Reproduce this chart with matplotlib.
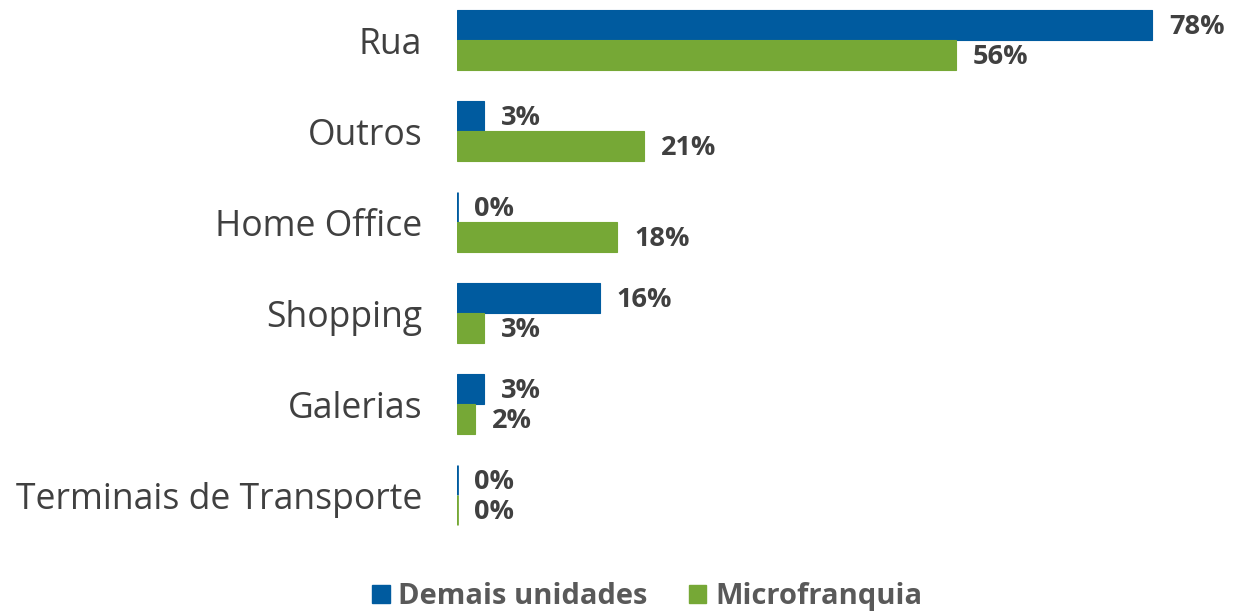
import matplotlib.pyplot as plt
import numpy as np

# chart data
categories = ["Rua", "Outros", "Home Office", "Shopping", "Galerias", "Terminais de Transporte"]
demais = [78, 3, 0, 16, 3, 0]
micro = [56, 21, 18, 3, 2, 0]
series_names = ["Demais unidades", "Microfranquia"]

BLUE = "#005b9f"
GREEN = "#76a836"
TXT = "#404040"

plt.rcParams['font.family'] = ['Open Sans', 'DejaVu Sans']

fig = plt.figure(figsize=(12.35, 6.14), dpi=100)
ax = fig.add_axes([0.37, 0.1205, 0.63, 0.8795])

y = np.arange(len(categories))
h = 0.33

b1 = ax.barh(y - h / 2, demais, height=h, color=BLUE, edgecolor=BLUE, linewidth=0.8)
b2 = ax.barh(y + h / 2, micro, height=h, color=GREEN, edgecolor=GREEN, linewidth=0.8)

# zero-width bars still show as a thin line
for bars, vals in [(b1, demais), (b2, micro)]:
    for bar, v in zip(bars, vals):
        if v == 0:
            bar.set_linewidth(2)
        ax.text(v + 1.9, bar.get_y() + bar.get_height() / 2 + 0.02, f"{v}%",
                va="center", ha="left", fontsize=19.5, fontweight="bold", color=TXT)

ax.set_yticks(y)
ax.set_yticklabels(categories, fontsize=25.6, color=TXT)
ax.tick_params(axis="y", length=0, pad=25)
ax.set_xticks([])
ax.set_xlim(0, 87.3)
ax.set_ylim(5.49, -0.44)
for s in ax.spines.values():
    s.set_visible(False)

handles = [plt.Rectangle((0, 0), 1, 1, color=BLUE), plt.Rectangle((0, 0), 1, 1, color=GREEN)]
leg = fig.legend(handles, series_names, loc="center", bbox_to_anchor=(0.524, 0.028), ncol=2,
                 frameon=False, handlelength=0.6, handleheight=0.6, handletextpad=0.3,
                 columnspacing=1.4, prop={"size": 21, "weight": "bold"})
for t in leg.get_texts():
    t.set_color("#595959")

fig.savefig("out.png", dpi=100)
